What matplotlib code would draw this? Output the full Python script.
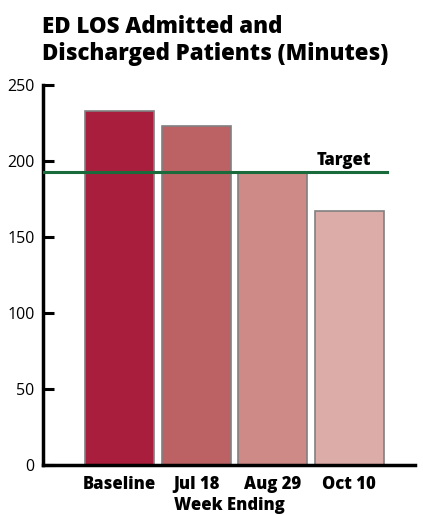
import matplotlib
matplotlib.use("Agg")
import matplotlib.pyplot as plt

categories = ["Baseline", "Jul 18", "Aug 29", "Oct 10"]
values = [233, 223, 193, 167]
target = 193
colors = ["#A91E3C", "#BC6264", "#CE8A86", "#DCACA8"]
yticks = [0, 50, 100, 150, 200, 250]

plt.rcParams['font.family'] = ['Open Sans', 'DejaVu Sans']
BW = 800

fig = plt.figure(figsize=(4.23, 5.15), dpi=100)
ax = fig.add_axes([43/423, 50/515, (415-43)/423, (465-85)/515])

x = list(range(len(categories)))
ax.bar(x, values, width=0.9, color=colors, edgecolor="#808080", linewidth=1.2, zorder=2)
ax.plot([-1.0, 3.5], [target, target], color="#1A6B3C", linewidth=2.2, zorder=3)
ax.text(2.93, target + 4.5, "Target", fontsize=12, fontweight=BW, ha="center", va="baseline")

ax.set_xlim(-1.0, 3.86)
ax.set_ylim(0, 250)
ax.set_yticks(yticks)
ax.set_xticks(x)
ax.set_xticklabels(categories, fontsize=12, fontweight=BW)
ax.tick_params(axis="x", length=0, pad=8)
ax.tick_params(axis="y", direction="in", length=8, width=2.2, labelsize=11.5, pad=6)
for s in ["top", "right"]:
    ax.spines[s].set_visible(False)
for s in ["left", "bottom"]:
    ax.spines[s].set_linewidth(2.5)
ax.set_xlabel("Week Ending", fontsize=12, fontweight=BW, labelpad=3)

fig.text(42/423, 1 - 15/515, "ED LOS Admitted and\nDischarged Patients (Minutes)",
         fontsize=16, fontweight=BW, ha="left", va="top", linespacing=1.18)

fig.savefig("out.png", dpi=100)
